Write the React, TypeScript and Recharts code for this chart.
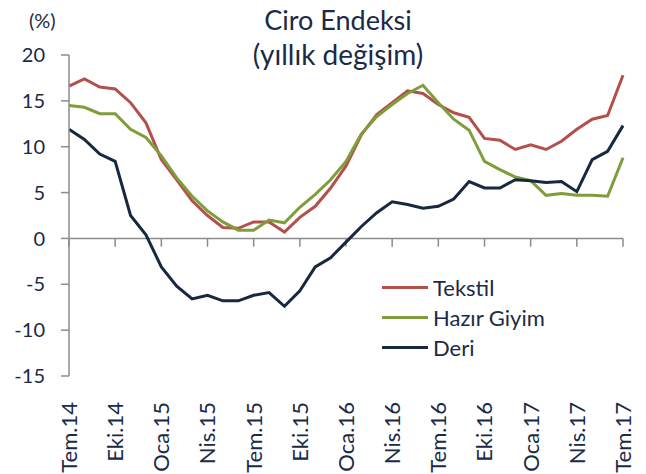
import React from 'react';
import { LineChart, Line, XAxis, YAxis, ReferenceLine } from 'recharts';

const months = [
  'Tem.14', 'Ağu.14', 'Eyl.14', 'Eki.14', 'Kas.14', 'Ara.14',
  'Oca.15', 'Şub.15', 'Mar.15', 'Nis.15', 'May.15', 'Haz.15',
  'Tem.15', 'Ağu.15', 'Eyl.15', 'Eki.15', 'Kas.15', 'Ara.15',
  'Oca.16', 'Şub.16', 'Mar.16', 'Nis.16', 'May.16', 'Haz.16',
  'Tem.16', 'Ağu.16', 'Eyl.16', 'Eki.16', 'Kas.16', 'Ara.16',
  'Oca.17', 'Şub.17', 'Mar.17', 'Nis.17', 'May.17', 'Haz.17',
  'Tem.17',
];

const tekstil = [
  16.6, 17.4, 16.5, 16.3, 14.8, 12.6, 8.6, 6.4, 4.1, 2.5, 1.2, 1.1,
  1.8, 1.8, 0.7, 2.3, 3.5, 5.5, 7.9, 11.3, 13.5, 14.8, 16.1, 15.8,
  14.6, 13.7, 13.2, 10.9, 10.7, 9.7, 10.2, 9.7, 10.6, 11.9, 13.0, 13.4,
  17.8,
];

const hazirGiyim = [
  14.5, 14.3, 13.6, 13.6, 11.9, 11.0, 9.0, 6.6, 4.6, 3.0, 1.8, 0.9,
  0.9, 2.0, 1.7, 3.4, 4.8, 6.4, 8.4, 11.4, 13.3, 14.6, 15.8, 16.7,
  14.8, 13.0, 11.8, 8.4, 7.5, 6.7, 6.3, 4.7, 4.9, 4.7, 4.7, 4.6,
  8.8,
];

const deri = [
  11.9, 10.8, 9.2, 8.4, 2.5, 0.4, -3.1, -5.2, -6.6, -6.2, -6.8, -6.8,
  -6.2, -5.9, -7.4, -5.7, -3.1, -2.1, -0.4, 1.3, 2.8, 4.0, 3.7, 3.3,
  3.5, 4.3, 6.2, 5.5, 5.5, 6.4, 6.3, 6.1, 6.2, 5.1, 8.6, 9.5, 12.3,
];

const yTicks = [-15, -10, -5, 0, 5, 10, 15, 20];

const data = months.map((m, i) => ({
  month: m,
  tekstil: tekstil[i],
  hazirGiyim: hazirGiyim[i],
  deri: deri[i],
}));

const tickMonths = months.filter((_, i) => i % 3 === 0);

const textColor = '#1B2A47';
const axisColor = '#8C8C8C';
const font = 'Lato, "Open Sans", sans-serif';

const series = [
  { key: 'tekstil', name: 'Tekstil', color: '#B4504B' },
  { key: 'hazirGiyim', name: 'Hazır Giyim', color: '#7E9E3B' },
  { key: 'deri', name: 'Deri', color: '#17283F' },
];

const MonthTick = (props: any) => {
  const { x, y, payload } = props;
  return (
    <g transform={`translate(${x},${y})`}>
      <text
        transform="rotate(-90)"
        x={-18}
        y={0}
        dy="0.36em"
        textAnchor="end"
        fill={textColor}
        fontSize={22}
        fontFamily={font}
      >
        {payload.value}
      </text>
    </g>
  );
};

export default function App() {
  return (
    <div style={{ position: 'absolute', left: 0, top: 0, width: 646, height: 474, background: '#fff' }}>
      <div style={{ position: 'absolute', left: 0, top: 5, width: 676, textAlign: 'center', fontFamily: font, color: textColor, lineHeight: '30px' }}>
        <div style={{ fontSize: 27 }}>Ciro Endeksi</div>
        <div style={{ fontSize: 28, marginTop: 4 }}>(yıllık değişim)</div>
      </div>
      <div style={{ position: 'absolute', left: 29, top: 8, fontFamily: font, color: textColor, fontSize: 20 }}>
        (%)
      </div>
      <LineChart
        width={646}
        height={474}
        data={data}
        margin={{ top: 55, right: 23, bottom: 8, left: 0 }}
      >
        <XAxis
          dataKey="month"
          interval={2}
          height={90}
          axisLine={false}
          tickLine={false}
          tick={<MonthTick />}
        />
        <YAxis
          width={69}
          domain={[-15, 20]}
          ticks={yTicks}
          interval={0}
          allowDataOverflow
          stroke={axisColor}
          strokeWidth={1.5}
          tickSize={8}
          tickMargin={16}
          tick={{ fill: textColor, fontSize: 20, fontFamily: font }}
        />
        <ReferenceLine y={0} stroke={axisColor} strokeWidth={1.5} />
        {tickMonths.map((m) => (
          <ReferenceLine
            key={m}
            segment={[{ x: m, y: 0 }, { x: m, y: -0.9 }]}
            stroke={axisColor}
            strokeWidth={1.5}
          />
        ))}
        {series.map((s) => (
          <Line
            key={s.key}
            type="linear"
            dataKey={s.key}
            name={s.name}
            stroke={s.color}
            strokeWidth={3}
            dot={false}
            isAnimationActive={false}
          />
        ))}
      </LineChart>
      <div style={{ position: 'absolute', left: 382, top: 272, fontFamily: font, color: textColor, fontSize: 22 }}>
        {series.map((s) => (
          <div key={s.key} style={{ display: 'flex', alignItems: 'center', height: 30 }}>
            <div style={{ width: 46, height: 3, background: s.color, marginRight: 5 }} />
            <span>{s.name}</span>
          </div>
        ))}
      </div>
    </div>
  );
}
